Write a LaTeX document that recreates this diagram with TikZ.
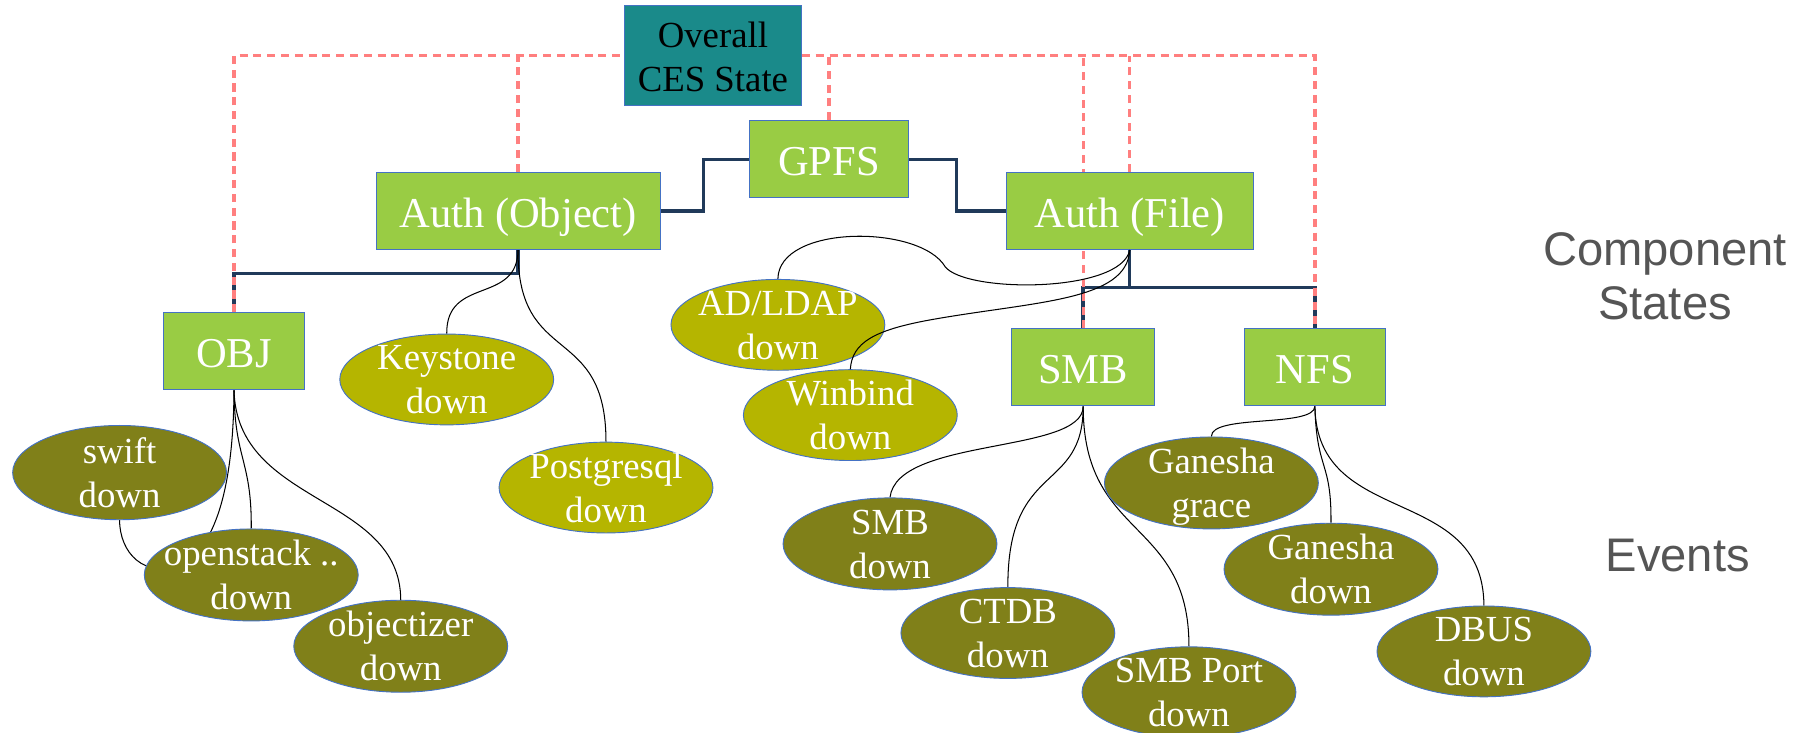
\documentclass[tikz,border=0pt]{standalone}
\usepackage{fontspec}
\setmainfont{Liberation Serif}
\newfontfamily\boxfont{Liberation Serif}
\newfontfamily\sidefont{Liberation Sans}
\usetikzlibrary{shapes.geometric,backgrounds}
\definecolor{boxgreen}{HTML}{99CC44}
\definecolor{tealbox}{HTML}{1A8A8A}
\definecolor{olivelight}{HTML}{B5B500}
\definecolor{olivedark}{HTML}{808019}
\definecolor{edgeblue}{HTML}{4472C4}
\definecolor{navyline}{HTML}{203A5A}
\definecolor{salmonline}{HTML}{FF7F7F}
\definecolor{sidegray}{HTML}{555555}
\begin{document}
\begin{tikzpicture}[x=1pt,y=-1pt,
  box/.style={draw=edgeblue,line width=0.8pt,fill=boxgreen,rectangle,inner sep=0pt,
    text height=28.6pt,text depth=0pt,
    font=\boxfont\fontsize{37}{44}\selectfont,text=white},
  evlight/.style={ellipse,draw=edgeblue,line width=0.8pt,fill=olivelight,inner sep=0pt,
    minimum width=186pt,minimum height=79pt},
  evdark/.style={evlight,fill=olivedark},
  evtext/.style={align=center,text=white,inner sep=0pt,text height=60pt,text depth=0pt,
    font=\boxfont\fontsize{32}{38.3}\selectfont},
  tree/.style={draw=navyline,line width=3pt},
  status/.style={draw=salmonline,line width=2.8pt,dash pattern=on 7pt off 5pt},
  evline/.style={draw=black,line width=0.9pt},
  side/.style={align=center,text=sidegray,inner sep=0pt,font=\sidefont\fontsize{41}{47}\selectfont}]
\useasboundingbox (0,0) rectangle (1568,637);

% state boxes
\node[box,fill=tealbox,text=black,minimum width=154pt,minimum height=87pt,align=center,
  text height=62.4pt,font=\boxfont\fontsize{32}{38.3}\selectfont] (overall) at (620,48.5) {Overall\\CES State};
\node[box,minimum width=138pt,minimum height=67pt] (gpfs) at (721,138.5) {GPFS};
\node[box,minimum width=247pt,minimum height=67pt] (authobj) at (450.5,183.5) {Auth (Object)};
\node[box,minimum width=215pt,minimum height=67pt] (authfile) at (982.5,183.5) {Auth (File)};
\node[box,minimum width=123pt,minimum height=67pt] (obj) at (203.5,305.5) {OBJ};
\node[box,minimum width=124pt,minimum height=67pt] (smb) at (942,319.5) {SMB};
\node[box,minimum width=123pt,minimum height=67pt] (nfs) at (1143.5,319.5) {NFS};

% events
\node[evlight] (keystone) at (388.5,330) {};
\node[evtext] (keystonet) at (keystone) {Keystone\\down};
\node[evlight] (postgres) at (527,424) {};
\node[evtext] (postgrest) at (postgres) {Postgresql\\down};
\node[evlight] (adldap) at (676.5,282.5) {};
\node[evtext] (adldapt) at (adldap) {AD/LDAP\\down};
\node[evlight] (winbind) at (739.5,361) {};
\node[evtext] (winbindt) at (winbind) {Winbind\\down};

\node[evdark,minimum height=82pt] (swift) at (104,411) {};
\node[evtext] (swiftt) at (swift) {swift\\down};
\node[evdark,minimum height=80pt] (openstack) at (218.5,500) {};
\node[evtext] (openstackt) at (openstack) {openstack ..\\down};
\node[evdark,minimum height=80pt] (objectizer) at (348.5,562) {};
\node[evtext] (objectizert) at (objectizer) {objectizer\\down};
\node[evdark,minimum height=80pt] (smbdown) at (774,473) {};
\node[evtext] (smbdownt) at (smbdown) {SMB\\down};
\node[evdark] (ctdb) at (876.5,550.5) {};
\node[evtext] (ctdbt) at (ctdb) {CTDB\\down};
\node[evdark] (smbport) at (1034,602) {};
\node[evtext] (smbportt) at (smbport) {SMB Port\\down};
\node[evdark,minimum height=80pt] (ggrace) at (1053.5,420) {};
\node[evtext] (ggracet) at (ggrace) {Ganesha\\grace};
\node[evdark,minimum height=80pt] (gdown) at (1157.5,495) {};
\node[evtext] (gdownt) at (gdown) {Ganesha\\down};
\node[evdark] (dbus) at (1290.5,566.5) {};
\node[evtext] (dbust) at (dbus) {DBUS\\down};

% side labels
\node[side] (comp) at (1448,240) {Component\\States};
\node[side] (events) at (1459,483) {Events};

\begin{scope}[on background layer]
  % tree (solid navy)
  \draw[tree] (authobj.east) -- (612,183.5) |- (gpfs.west);
  \draw[tree] (gpfs.east) -- (832,138.5) |- (authfile.west);
  \draw[tree] (authobj.south) -- (450.5,238) -| (obj.north);
  \draw[tree] (authfile.south) -- (982.5,250);
  \draw[tree] (smb.north) |- (nfs.north |- 0,250) -- (nfs.north);
  % status (dashed salmon)
  \draw[status] (obj.north) |- (overall.west);
  \draw[status] (authobj.north) -- (authobj.north |- overall.west);
  \draw[status] (overall.east) -| (nfs.north);
  \draw[status] (gpfs.north) -- (gpfs.north |- overall.east);
  \draw[status] (smb.north) -- (smb.north |- overall.east);
  \draw[status] (authfile.north) -- (authfile.north |- overall.east);
  % event links
  \draw[evline] (authobj.south) .. controls (450,265) and (388,240) .. (keystone.north);
  \draw[evline] (authobj.south) .. controls (450,320) and (527,280) .. (postgres.north);
  \draw[evline] (authfile.south) .. controls (975,255) and (840,255) .. (822,232)
     .. controls (800,195) and (677,195) .. (adldap.north);
  \draw[evline] (obj.south) .. controls (203,430) and (185,475) .. (160,490)
     .. controls (125,505) and (104,480) .. (swift.south);
  \draw[evline] (obj.south) .. controls (204,400) and (219,400) .. (openstack.north);
  \draw[evline] (obj.south) .. controls (206,440) and (348,430) .. (objectizer.north);
  \draw[evline] (smb.south) .. controls (942,395) and (780,380) .. (smbdown.north);
  \draw[evline] (smb.south) .. controls (942,430) and (876,400) .. (ctdb.north);
  \draw[evline] (smb.south) .. controls (942,470) and (1034,450) .. (smbport.north);
  \draw[evline] (nfs.south) .. controls (1143,372) and (1053,360) .. (ggrace.north);
  \draw[evline] (nfs.south) .. controls (1145,410) and (1158,400) .. (gdown.north);
  \draw[evline] (nfs.south) .. controls (1145,460) and (1290,420) .. (dbus.north);
\end{scope}
% winbind link runs over the AD/LDAP ellipse
\draw[evline] (authfile.south) .. controls (980,262) and (900,262) .. (810,278)
   .. controls (760,287) and (741,298) .. (winbind.north);
\end{tikzpicture}
\end{document}
